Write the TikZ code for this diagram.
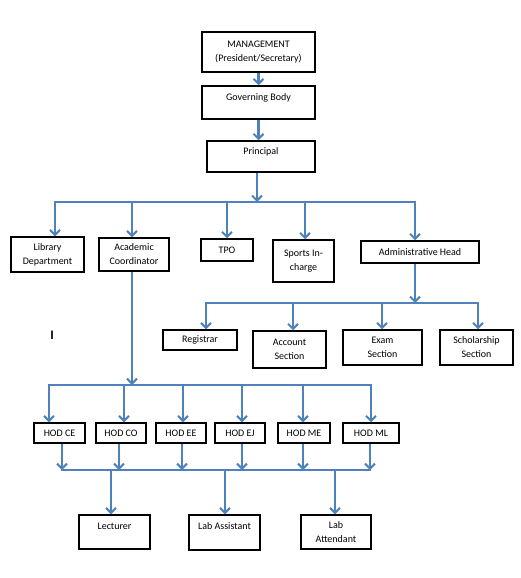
\documentclass[tikz,border=0pt]{standalone}
\usepackage{fontspec}
\setmainfont{Carlito}
\definecolor{linkblue}{RGB}{79,129,189}
\usetikzlibrary{arrows.meta}

\begin{document}
\begin{tikzpicture}[x=1pt,y=-1pt,
    box/.style={draw, line width=1.5pt, align=center, inner sep=2pt, font=\fontsize{10}{14}\selectfont},
    link/.style={linkblue, line width=2.5pt},
    bus/.style={link, line cap=rect},
    arr/.style={link, -{Straight Barb[length=5pt,width=10pt,line width=2pt]}}]
    \useasboundingbox (0,0) rectangle (521,578);

    % Top of the chart
    \node[box, minimum width=113pt, minimum height=40pt] (mgmt) at (258.5,52) {MANAGEMENT\\(President/Secretary)};
    \node[box, minimum width=113pt, minimum height=33pt, text depth=11pt] (gov) at (258.5,102.5) {Governing Body};
    \node[box, minimum width=108pt, minimum height=31pt, text depth=11pt] (prin) at (261,156.5) {Principal};

    % Second level
    \node[box, minimum width=73pt, minimum height=35pt] (lib) at (47.5,254.5) {Library\\Department};
    \node[box, minimum width=70pt, minimum height=33pt] (acad) at (134,254.5) {Academic\\Coordinator};
    \node[box, minimum width=52pt, minimum height=22pt] (tpo) at (227,250) {TPO};
    \node[box, minimum width=61pt, minimum height=42pt] (sports) at (303.5,261) {Sports In-\\charge};
    \node[box, minimum width=118pt, minimum height=22pt] (admin) at (420,252) {Administrative Head};

    % Admin sections
    \node[box, minimum width=74pt, minimum height=20pt] (reg) at (200,340) {Registrar};
    \node[box, minimum width=73pt, minimum height=37pt] (acc) at (289.5,349.5) {Account\\Section};
    \node[box, minimum width=79pt, minimum height=35pt] (exam) at (382.5,347.5) {Exam\\Section};
    \node[box, minimum width=73pt, minimum height=35pt] (schol) at (476.5,347.5) {Scholarship\\Section};

    \node[font=\fontsize{13}{16}\selectfont\bfseries] (mark) at (52,335) {I};

    % HODs
    \foreach \n/\x/\w/\t in {hce/59.5/51/HOD CE, hco/121/50/HOD CO, hee/181/50/HOD EE,
                             hej/240/50/HOD EJ, hme/304/52/HOD ME, hml/371/56/HOD ML}
        \node[box, minimum width=\w pt, minimum height=20pt] (\n) at (\x,433) {\t};

    % Staff
    \node[box, minimum width=71pt, minimum height=34pt, text depth=12pt] (lect) at (114.5,532) {Lecturer};
    \node[box, minimum width=71pt, minimum height=35pt, text depth=12pt] (labas) at (224.5,532.5) {Lab Assistant};
    \node[box, minimum width=70pt, minimum height=34pt] (labat) at (336,532) {Lab\\Attendant};

    % Links
    \draw[arr] (mgmt.south) -- (gov.north);
    \draw[arr] (gov.south) -- (gov.south |- prin.north);

    \coordinate (bus1) at (257,202);
    \draw[arr] (prin.south -| bus1) -- (bus1);
    \draw[bus] (55,202) -- (415,202);
    \foreach \n/\x in {lib/55, acad/132, tpo/227, sports/305, admin/415}
        \draw[arr] (\x,202) -- (\n.north -| \x,202);

    \coordinate (bus2) at (415,303);
    \draw[arr] (admin.south -| bus2) -- (bus2);
    \draw[bus] (206,303) -- (478,303);
    \foreach \n/\x in {reg/206, acc/293, exam/382, schol/478}
        \draw[arr] (\x,303) -- (\n.north -| \x,303);

    \coordinate (bus3) at (132,385);
    \draw[arr] (acad.south -| bus3) -- (bus3);
    \draw[bus] (49,385) -- (371,385);
    \foreach \n/\x in {hce/49, hco/124, hee/183, hej/242, hme/303, hml/371}
        \draw[arr] (\x,385) -- (\n.north -| \x,385);

    \foreach \n/\x in {hce/62, hco/119, hee/182, hej/242, hme/303, hml/370}
        \draw[arr] (\n.south -| \x,470) -- (\x,470);
    \draw[bus] (62,470) -- (370,470);
    \foreach \n/\x in {lect/111, labas/225, labat/335}
        \draw[arr] (\x,470) -- (\n.north -| \x,470);
\end{tikzpicture}
\end{document}
